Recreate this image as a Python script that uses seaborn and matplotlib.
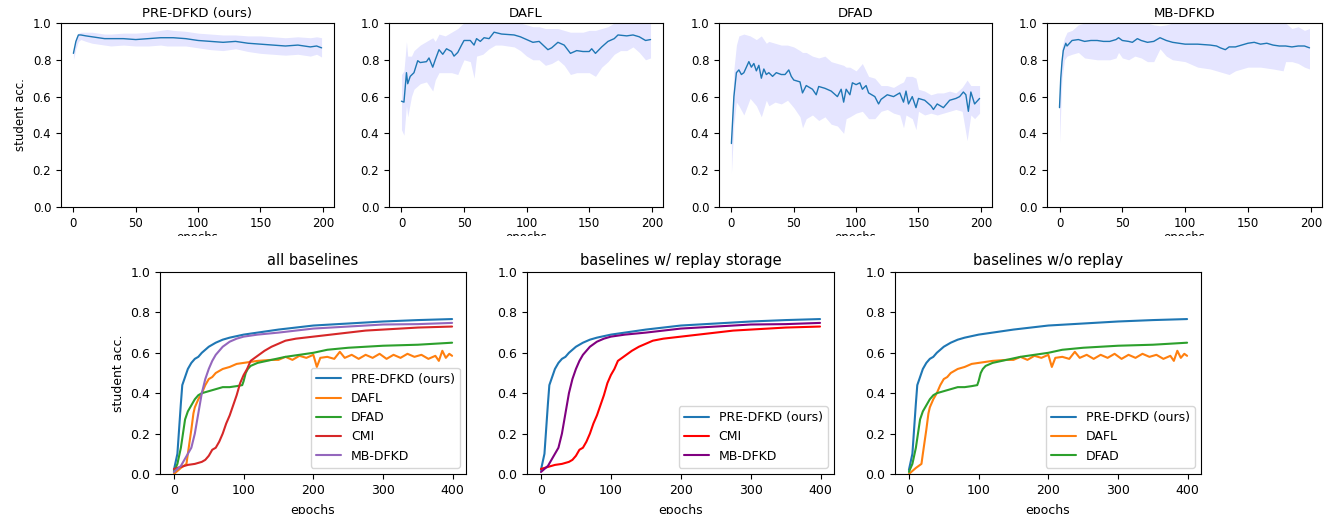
import numpy as np
import pandas as pd
import matplotlib
matplotlib.use("Agg")
import matplotlib.pyplot as plt
from matplotlib.patches import Rectangle
import seaborn as sns

# ---------------- top row data (200 epochs, mean + band) ----------------
pre_mean_x = [0, 2, 4, 6, 10, 15, 20, 25, 30, 40, 50, 60, 70, 75, 80, 90, 100, 110, 120, 130, 140, 150, 160, 170, 180, 190, 195, 199]
pre_mean = [.835, .90, .935, .935, .93, .925, .92, .915, .915, .915, .91, .915, .92, .92, .92, .915, .905, .90, .895, .90, .89, .885, .88, .875, .88, .87, .875, .865]
pre_band_x = pre_mean_x
pre_hi = [.84, .92, .945, .95, .95, .95, .945, .94, .94, .945, .945, .95, .96, .965, .96, .955, .945, .94, .935, .935, .93, .93, .925, .92, .925, .92, .925, .92]
pre_lo = [.80, .86, .90, .91, .90, .89, .885, .88, .875, .88, .875, .875, .88, .875, .875, .875, .865, .855, .85, .86, .845, .835, .83, .825, .83, .82, .83, .815]

dafl_mean_x = [0, 2, 4, 5, 7, 10, 13, 15, 20, 22, 25, 27, 30, 33, 36, 40, 42, 45, 48, 50, 55, 58, 60, 63, 66, 70, 74, 80, 90, 95, 100, 105, 110, 117, 120, 125, 130, 135, 140, 145, 150, 152, 155, 160, 165, 170, 173, 180, 185, 190, 195, 199]
dafl_mean = [.575, .57, .73, .67, .71, .73, .795, .785, .79, .81, .76, .80, .855, .83, .86, .845, .82, .84, .88, .905, .905, .88, .915, .90, .92, .915, .95, .94, .935, .925, .91, .895, .90, .855, .865, .895, .88, .835, .85, .845, .845, .86, .835, .87, .90, .915, .935, .93, .935, .925, .905, .91]
dafl_band_x = [0, 2, 4, 5, 8, 10, 15, 20, 25, 27, 30, 35, 40, 45, 48, 50, 55, 58, 60, 65, 70, 75, 80, 90, 95, 100, 105, 110, 115, 120, 125, 130, 135, 140, 145, 150, 155, 160, 165, 170, 175, 180, 185, 190, 195, 199]
dafl_hi = [.72, .74, .90, .82, .82, .85, .88, .90, .92, .90, .94, .93, .95, .97, .99, 1.0, 1.0, 1.0, 1.0, 1.0, 1.0, 1.0, 1.0, 1.0, 1.0, .99, .98, .98, .97, .97, .97, .96, .95, .95, .95, .96, .96, .97, .98, 1.0, 1.0, 1.0, 1.0, 1.0, 1.0, 1.0]
dafl_lo = [.42, .39, .55, .49, .60, .64, .67, .68, .63, .69, .73, .73, .73, .72, .77, .80, .79, .70, .82, .83, .86, .88, .88, .87, .85, .82, .80, .80, .77, .78, .80, .77, .72, .73, .73, .73, .71, .76, .79, .83, .85, .85, .87, .84, .80, .81]

dfad_mean_x = [0, 2, 4, 6, 8, 10, 12, 14, 16, 18, 20, 22, 24, 26, 28, 30, 33, 36, 40, 43, 46, 48, 50, 55, 57, 60, 65, 68, 70, 75, 80, 85, 88, 90, 92, 95, 97, 100, 103, 105, 108, 110, 115, 118, 120, 125, 130, 135, 138, 140, 142, 145, 148, 150, 155, 160, 162, 165, 170, 175, 180, 183, 186, 188, 190, 192, 195, 199]
dfad_mean = [.345, .60, .73, .745, .72, .73, .76, .79, .76, .78, .74, .77, .70, .75, .72, .73, .71, .73, .72, .72, .745, .71, .69, .68, .62, .66, .64, .61, .655, .645, .63, .60, .64, .57, .64, .61, .675, .665, .675, .64, .66, .62, .60, .56, .585, .61, .60, .62, .57, .63, .56, .60, .54, .59, .58, .55, .53, .56, .54, .58, .59, .60, .625, .61, .52, .625, .56, .59]
dfad_band_x = [0, 2, 4, 6, 10, 15, 20, 24, 28, 30, 35, 40, 45, 50, 55, 57, 60, 65, 70, 75, 80, 85, 90, 92, 95, 100, 105, 110, 115, 120, 125, 130, 135, 138, 140, 145, 148, 150, 155, 160, 165, 170, 175, 180, 185, 189, 192, 195, 199]
dfad_hi = [.40, .75, .88, .93, .94, .93, .91, .93, .89, .90, .89, .88, .88, .87, .85, .84, .84, .82, .81, .82, .79, .78, .77, .76, .76, .74, .78, .71, .70, .66, .66, .65, .67, .68, .71, .71, .70, .64, .63, .61, .62, .62, .63, .62, .65, .69, .66, .66, .66]
dfad_lo = [.18, .45, .57, .55, .50, .59, .55, .49, .58, .55, .57, .56, .58, .54, .49, .43, .48, .50, .47, .49, .45, .44, .40, .48, .49, .51, .52, .48, .48, .52, .53, .51, .50, .43, .50, .48, .42, .52, .50, .51, .50, .51, .52, .53, .52, .36, .50, .48, .51]

mb_mean_x = [0, 1, 2, 3, 5, 6, 8, 10, 15, 20, 25, 30, 35, 40, 45, 47, 50, 55, 58, 62, 65, 70, 75, 80, 85, 90, 95, 100, 110, 120, 125, 128, 132, 135, 140, 145, 150, 155, 160, 165, 170, 175, 180, 185, 190, 195, 199]
mb_mean = [.54, .70, .79, .85, .89, .875, .89, .905, .91, .90, .905, .905, .90, .90, .91, .92, .905, .90, .895, .915, .905, .895, .90, .92, .905, .895, .89, .885, .885, .88, .875, .865, .855, .87, .87, .88, .89, .895, .885, .89, .88, .875, .875, .87, .875, .875, .865]
mb_band_x = [0, 2, 4, 6, 10, 15, 20, 30, 40, 45, 47, 50, 55, 60, 65, 70, 75, 80, 85, 90, 100, 110, 120, 130, 135, 140, 150, 160, 170, 178, 180, 185, 190, 195, 199]
mb_hi = [.66, .87, .92, .95, .96, .99, 1.0, 1.0, 1.0, 1.0, 1.0, 1.0, 1.0, 1.0, 1.0, 1.0, .99, .985, .99, 1.0, 1.0, 1.0, 1.0, 1.0, 1.0, 1.0, 1.0, 1.0, 1.0, 1.0, 1.0, .97, .98, .96, .97]
mb_lo = [.35, .70, .80, .82, .83, .84, .81, .80, .80, .81, .84, .81, .80, .82, .81, .79, .79, .86, .82, .80, .79, .76, .75, .73, .72, .74, .76, .76, .75, .74, .79, .79, .78, .76, .75]

top_titles = ["PRE-DFKD (ours)", "DAFL", "DFAD", "MB-DFKD"]

# ---------------- bottom row data (400 epochs) ----------------
b_pre_x = [0, 5, 8, 10, 12, 15, 20, 25, 30, 35, 40, 50, 60, 70, 80, 100, 120, 150, 175, 200, 250, 300, 350, 399]
b_pre_y = [.02, .10, .25, .35, .44, .47, .52, .55, .57, .58, .60, .63, .65, .665, .675, .69, .70, .715, .725, .735, .745, .755, .762, .767]

b_dafl_x = [0, 10, 18, 20, 25, 28, 30, 35, 40, 45, 50, 55, 60, 70, 80, 90, 100, 110, 120, 140, 150, 160, 170, 180, 190, 200, 205, 210, 220, 230, 238, 245, 255, 265, 275, 285, 295, 305, 315, 325, 335, 345, 355, 365, 375, 380, 385, 390, 395, 399]
b_dafl_y = [.0, .03, .05, .10, .22, .30, .33, .37, .40, .44, .47, .48, .50, .52, .53, .545, .55, .555, .56, .565, .565, .58, .565, .585, .575, .59, .53, .575, .58, .57, .605, .575, .59, .57, .59, .575, .595, .57, .59, .575, .595, .58, .59, .57, .585, .56, .61, .575, .595, .585]

b_dfad_x = [0, 5, 10, 13, 16, 20, 25, 30, 35, 40, 50, 60, 70, 80, 90, 98, 100, 103, 106, 110, 120, 140, 160, 180, 200, 220, 250, 300, 350, 399]
b_dfad_y = [.01, .05, .13, .20, .27, .31, .34, .37, .39, .40, .41, .42, .43, .43, .435, .44, .46, .50, .52, .535, .55, .565, .58, .59, .60, .615, .625, .635, .64, .65]

b_cmi_x = [0, 10, 20, 30, 40, 45, 50, 55, 60, 65, 70, 75, 80, 85, 90, 95, 100, 105, 110, 120, 130, 140, 150, 160, 175, 200, 225, 250, 275, 300, 350, 399]
b_cmi_y = [.025, .035, .045, .05, .06, .07, .09, .12, .13, .16, .20, .25, .29, .34, .39, .45, .49, .52, .56, .585, .61, .63, .645, .66, .67, .68, .69, .70, .71, .715, .725, .73]

b_mb_x = [0, 10, 15, 20, 25, 30, 35, 40, 45, 50, 55, 60, 70, 80, 90, 100, 120, 150, 175, 200, 250, 300, 350, 399]
b_mb_y = [.01, .04, .07, .10, .13, .20, .30, .40, .47, .52, .56, .59, .63, .655, .67, .68, .69, .70, .71, .72, .73, .74, .742, .748]

bottom_titles = ["all baselines", "baselines w/ replay storage", "baselines w/o replay"]

# ---------------- drawing ----------------
sns.set_style("ticks")
plt.rcParams["font.family"] = ["DejaVu Sans"]
plt.rcParams["axes.edgecolor"] = "black"
plt.rcParams["xtick.color"] = "black"
plt.rcParams["ytick.color"] = "black"
plt.rcParams["text.color"] = "black"
plt.rcParams["axes.labelcolor"] = "black"

W, H = 1337, 514
fig = plt.figure(figsize=(W / 100, H / 100), dpi=100)


def ax_px(left, top, right, bottom):
    return fig.add_axes([left / W, 1 - bottom / H, (right - left) / W, (bottom - top) / H])


top_pos = [(61, 23, 334, 207), (389, 23, 663, 207), (719, 23, 992, 207), (1047, 23, 1322, 207)]
top_data = [
    (pre_mean_x, pre_mean, pre_band_x, pre_lo, pre_hi),
    (dafl_mean_x, dafl_mean, dafl_band_x, dafl_lo, dafl_hi),
    (dfad_mean_x, dfad_mean, dfad_band_x, dfad_lo, dfad_hi),
    (mb_mean_x, mb_mean, mb_band_x, mb_lo, mb_hi),
]
for i, (pos, d, title) in enumerate(zip(top_pos, top_data, top_titles)):
    ax = ax_px(*pos)
    mx, my, bx, lo, hi = d
    ax.fill_between(bx, lo, hi, color="blue", alpha=0.1, linewidth=0)
    sns.lineplot(x=mx, y=my, ax=ax, color="#1f77b4", linewidth=1.0)
    ax.set_ylim(0, 1.0)
    ax.set_xlim(-9.95, 208.95)
    ax.set_xticks([0, 50, 100, 150, 200])
    ax.set_yticks([0, .2, .4, .6, .8, 1.0])
    ax.set_yticklabels(["0.0", "0.2", "0.4", "0.6", "0.8", "1.0"])
    ax.tick_params(labelsize=8.5, length=3.5, width=0.8)
    ax.set_title(title, fontsize=9.5, pad=4)
    ax.set_xlabel("epochs", fontsize=8.5, labelpad=1)
    ax.set_ylabel("student acc." if i == 0 else "", fontsize=8.5)
    for s in ax.spines.values():
        s.set_linewidth(0.8)

# white strip to mimic the cropped top figure
fig.add_artist(Rectangle((0, 1 - 250 / H), 1, 14 / H, transform=fig.transFigure,
                         facecolor="white", edgecolor="none", zorder=10))

bot_pos = [(160, 272, 466, 474), (527, 272, 834, 474), (895, 272, 1201, 474)]
curves = {
    "PRE-DFKD (ours)": (b_pre_x, b_pre_y),
    "DAFL": (b_dafl_x, b_dafl_y),
    "DFAD": (b_dfad_x, b_dfad_y),
    "CMI": (b_cmi_x, b_cmi_y),
    "MB-DFKD": (b_mb_x, b_mb_y),
}
panel_series = [
    [("PRE-DFKD (ours)", "#1f77b4"), ("DAFL", "#ff7f0e"), ("DFAD", "#2ca02c"), ("CMI", "#d62728"), ("MB-DFKD", "#9467bd")],
    [("PRE-DFKD (ours)", "#1f77b4"), ("CMI", "red"), ("MB-DFKD", "purple")],
    [("PRE-DFKD (ours)", "#1f77b4"), ("DAFL", "#ff7f0e"), ("DFAD", "#2ca02c")],
]
for i, (pos, series, title) in enumerate(zip(bot_pos, panel_series, bottom_titles)):
    ax = ax_px(*pos)
    for name, col in series:
        x, y = curves[name]
        sns.lineplot(x=x, y=y, ax=ax, color=col, linewidth=1.5, label=name)
    ax.set_ylim(0, 1.0)
    ax.set_xlim(-19.95, 418.95)
    ax.set_xticks([0, 100, 200, 300, 400])
    ax.set_yticks([0, .2, .4, .6, .8, 1.0])
    ax.set_yticklabels(["0.0", "0.2", "0.4", "0.6", "0.8", "1.0"])
    ax.tick_params(labelsize=9, length=3.5, width=0.8)
    ax.set_title(title, fontsize=10.5, pad=5)
    ax.set_xlabel("epochs", fontsize=9, labelpad=5)
    ax.set_ylabel("student acc." if i == 0 else "", fontsize=9)
    for s in ax.spines.values():
        s.set_linewidth(0.8)
    ax.legend(loc="lower right", fontsize=9, frameon=True, fancybox=True)

fig.savefig("out.png", dpi=100)
